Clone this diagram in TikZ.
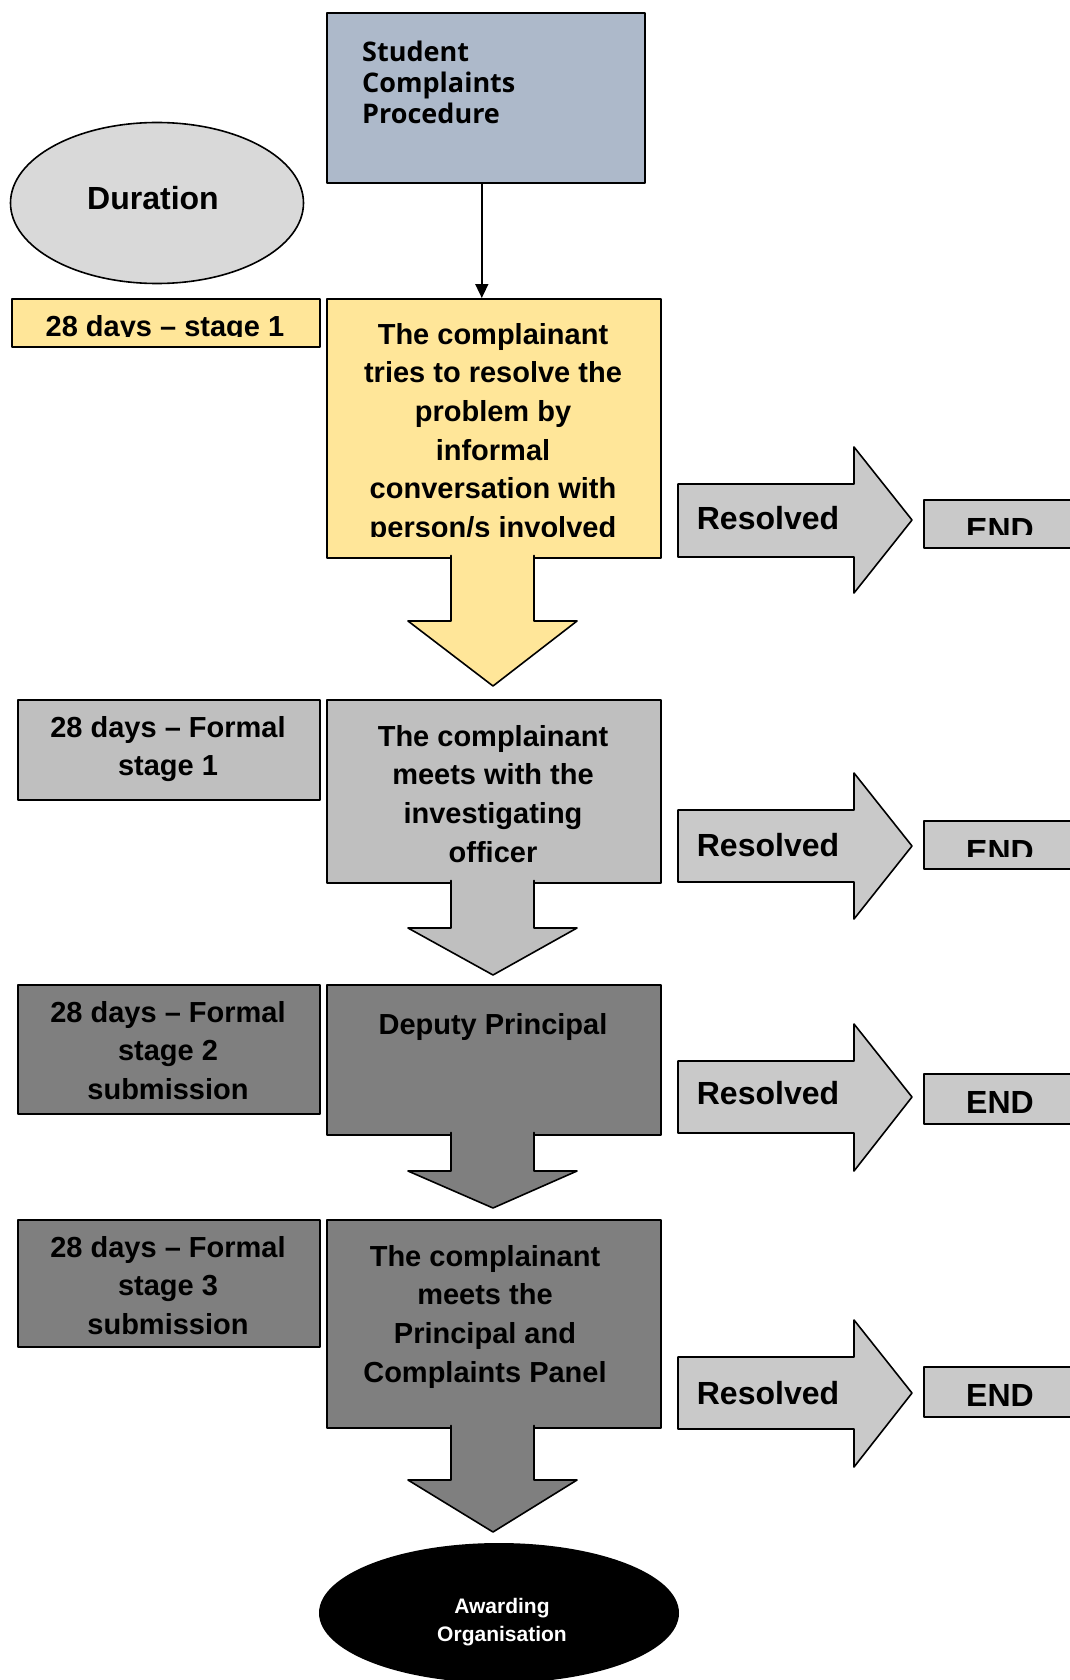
\documentclass[tikz,border=0pt]{standalone}
\usepackage{fontspec}
\setmainfont{Liberation Sans}
\newfontfamily\titlefont{Open Sans}
\usetikzlibrary{arrows.meta,shapes.geometric}
\definecolor{adbzca}{rgb}{0.6784313725490196,0.7254901960784313,0.792156862745098}
\definecolor{ffewzz}{rgb}{1,0.9019607843137255,0.6}
\definecolor{dzdzdz}{rgb}{0.8509803921568627,0.8509803921568627,0.8509803921568627}
\definecolor{bfbfbf}{rgb}{0.7490196078431373,0.7490196078431373,0.7490196078431373}
\definecolor{xfxfxf}{rgb}{0.4980392156862745,0.4980392156862745,0.4980392156862745}
\definecolor{czczcz}{rgb}{0.788235294117647,0.788235294117647,0.788235294117647}
\newcommand{\stagefont}{\bfseries\fontsize{29}{38.6}\selectfont}
\newcommand{\bigfont}{\bfseries\fontsize{32}{38}\selectfont}

\begin{document}
\begin{tikzpicture}[line cap=round,line join=round,>={Triangle[length=14pt,width=13pt]},x=1pt,y=-1pt,
	stagebox/.style={draw,line width=1.6pt,inner sep=0pt,anchor=north west},
	stagetxt/.style={inner sep=0pt,align=center,font=\stagefont},
	blockarr/.style={line width=1.6pt}]
	\useasboundingbox (0,0) rectangle (1069,1680);
	% top
	\node[stagebox,fill=adbzca,minimum width=318pt,minimum height=170pt] (title) at (326,12) {};
	\node[anchor=north west,inner sep=0pt,align=left,font=\titlefont\bfseries\fontsize{27}{31}\selectfont] (titletxt) at (362,41) {Student\\Complaints\\Procedure};
	\node[ellipse,draw,line width=1.6pt,fill=dzdzdz,minimum width=293pt,minimum height=161pt,inner sep=0pt] (duration) at (157,203) {};
	\node[inner sep=0pt,font=\bigfont,anchor=base] (durationtxt) at (153,210) {Duration};
	% informal stage
	\node[stagebox,fill=ffewzz,minimum width=308pt,minimum height=48pt] (daysone) at (11,298) {};
	\node[stagebox,fill=ffewzz,minimum width=334pt,minimum height=259pt] (informal) at (326,298) {};
	\draw[->,line width=1.6pt] ([xshift=-4pt]title.south) -- ([xshift=-4pt]title.south |- informal.north);
	\begin{scope}
	\clip (11,298) rectangle (319,336.5);
	\node[stagetxt,anchor=base] (daysonetxt) at (165,336) {28 days – stage 1};
	\end{scope}
	\begin{scope}
	\clip (326,298) rectangle (660,536.5);
	\node[stagetxt,anchor=north] (informaltxt) at (493,323) {The complainant\\tries to resolve the\\problem by\\informal\\conversation with\\person/s involved};
	\end{scope}
	\filldraw[blockarr,fill=ffewzz] (451,555.5) -- (451,621) -- (408,621) -- (493,686) -- (577,621) -- (534,621) -- (534,555.5);
	% formal stage 1
	\node[stagebox,fill=bfbfbf,minimum width=302pt,minimum height=100pt] (daystwo) at (17,699) {};
	\node[stagebox,fill=bfbfbf,minimum width=334pt,minimum height=183pt] (meeting) at (326,699) {};
	\node[stagetxt,anchor=north] (daystwotxt) at (168,716) {28 days – Formal\\stage 1};
	\node[stagetxt,anchor=north] (meetingtxt) at (493,725) {The complainant\\meets with the\\investigating\\officer};
	\filldraw[blockarr,fill=bfbfbf] (451,880.5) -- (451,928) -- (408,928) -- (493,975) -- (577,928) -- (534,928) -- (534,880.5);
	% formal stage 2
	\node[stagebox,fill=xfxfxf,minimum width=302pt,minimum height=129pt] (daysthree) at (17,984) {};
	\node[stagebox,fill=xfxfxf,minimum width=334pt,minimum height=150pt] (deputy) at (326,984) {};
	\node[stagetxt,anchor=north] (daysthreetxt) at (168,1001) {28 days – Formal\\stage 2\\submission};
	\node[stagetxt,anchor=base] (deputytxt) at (493,1034) {Deputy Principal};
	\filldraw[blockarr,fill=xfxfxf] (451,1132.5) -- (451,1171) -- (408,1171) -- (493,1208) -- (577,1171) -- (534,1171) -- (534,1132.5);
	% formal stage 3
	\node[stagebox,fill=xfxfxf,minimum width=302pt,minimum height=127pt] (daysfour) at (17,1219) {};
	\node[stagebox,fill=xfxfxf,minimum width=334pt,minimum height=208pt] (panel) at (326,1219) {};
	\node[stagetxt,anchor=north] (daysfourtxt) at (168,1236) {28 days – Formal\\stage 3\\submission};
	\node[stagetxt,anchor=north] (paneltxt) at (485,1245) {The complainant\\meets the\\Principal and\\Complaints Panel};
	\filldraw[blockarr,fill=xfxfxf] (451,1425.5) -- (451,1480) -- (408,1480) -- (493,1532) -- (577,1480) -- (534,1480) -- (534,1425.5);
	\node[ellipse,fill=black,minimum width=360pt,minimum height=140pt,inner sep=0pt] (awarding) at (499,1613) {};
	\node[inner sep=0pt,align=center,text=white,font=\bfseries\fontsize{21}{28}\selectfont,anchor=north] (awardingtxt) at (502,1598) {Awarding\\Organisation};
	% resolved arrows
	\filldraw[blockarr,fill=czczcz] (678,484) -- (854,484) -- (854,447) -- (912,520) -- (854,593) -- (854,557) -- (678,557) -- cycle;
	\filldraw[blockarr,fill=czczcz] (678,810) -- (854,810) -- (854,773) -- (912,846) -- (854,919) -- (854,882) -- (678,882) -- cycle;
	\filldraw[blockarr,fill=czczcz] (678,1061) -- (854,1061) -- (854,1024) -- (912,1097) -- (854,1171) -- (854,1133) -- (678,1133) -- cycle;
	\filldraw[blockarr,fill=czczcz] (678,1357) -- (854,1357) -- (854,1320) -- (912,1393) -- (854,1467) -- (854,1429) -- (678,1429) -- cycle;
	\node[inner sep=0pt,font=\bigfont,anchor=base] (resone) at (768,529) {Resolved};
	\node[inner sep=0pt,font=\bigfont,anchor=base] (restwo) at (768,856) {Resolved};
	\node[inner sep=0pt,font=\bigfont,anchor=base] (resthree) at (768,1104) {Resolved};
	\node[inner sep=0pt,font=\bigfont,anchor=base] (resfour) at (768,1404) {Resolved};
	% end boxes
	\node[stagebox,fill=czczcz,minimum width=154pt,minimum height=48pt] (endone) at (923,499) {};
	\node[stagebox,fill=czczcz,minimum width=154pt,minimum height=48pt] (endtwo) at (923,820) {};
	\node[stagebox,fill=czczcz,minimum width=154pt,minimum height=50pt] (endthree) at (923,1073) {};
	\node[stagebox,fill=czczcz,minimum width=154pt,minimum height=50pt] (endfour) at (923,1366) {};
	\begin{scope}
	\clip (923,499) rectangle (1069,534.5);
	\node[inner sep=0pt,font=\bigfont,anchor=base] (endonetxt) at (1000,540) {END};
	\end{scope}
	\begin{scope}
	\clip (923,820) rectangle (1069,856.5);
	\node[inner sep=0pt,font=\bigfont,anchor=base] (endtwotxt) at (1000,862) {END};
	\end{scope}
	\node[inner sep=0pt,font=\bigfont,anchor=base] (endthreetxt) at (1000,1113) {END};
	\node[inner sep=0pt,font=\bigfont,anchor=base] (endfourtxt) at (1000,1406) {END};
\end{tikzpicture}
\end{document}
